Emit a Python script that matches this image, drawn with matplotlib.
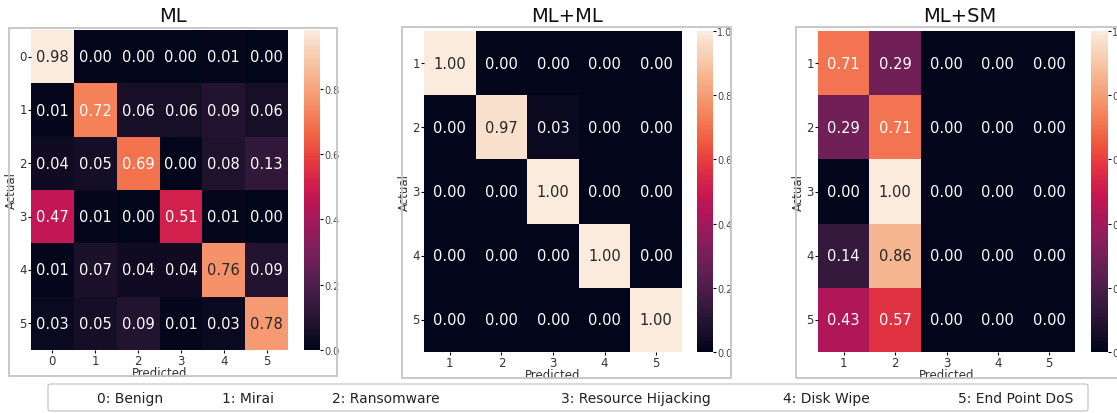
import numpy as np
import matplotlib
matplotlib.use("Agg")
import matplotlib.pyplot as plt
from matplotlib.patches import Rectangle, FancyBboxPatch
import seaborn as sns

# Confusion matrices (row-normalised)
ml_labels = ["0", "1", "2", "3", "4", "5"]
ml_values = [
    [0.98, 0.00, 0.00, 0.00, 0.01, 0.00],
    [0.01, 0.72, 0.06, 0.06, 0.09, 0.06],
    [0.04, 0.05, 0.69, 0.00, 0.08, 0.13],
    [0.47, 0.01, 0.00, 0.51, 0.01, 0.00],
    [0.01, 0.07, 0.04, 0.04, 0.76, 0.09],
    [0.03, 0.05, 0.09, 0.01, 0.03, 0.78],
]

mlml_labels = ["1", "2", "3", "4", "5"]
mlml_values = [
    [1.00, 0.00, 0.00, 0.00, 0.00],
    [0.00, 0.97, 0.03, 0.00, 0.00],
    [0.00, 0.00, 1.00, 0.00, 0.00],
    [0.00, 0.00, 0.00, 1.00, 0.00],
    [0.00, 0.00, 0.00, 0.00, 1.00],
]

mlsm_labels = ["1", "2", "3", "4", "5"]
mlsm_values = [
    [0.71, 0.29, 0.00, 0.00, 0.00],
    [0.29, 0.71, 0.00, 0.00, 0.00],
    [0.00, 1.00, 0.00, 0.00, 0.00],
    [0.14, 0.86, 0.00, 0.00, 0.00],
    [0.43, 0.57, 0.00, 0.00, 0.00],
]

panel_titles = ["ML", "ML+ML", "ML+SM"]
class_names = ["0: Benign", "1: Mirai", "2: Ransomware",
               "3: Resource Hijacking", "4: Disk Wipe", "5: End Point DoS"]

W, H = 1117, 414
fig = plt.figure(figsize=(W / 100, H / 100), dpi=100)
fig.patch.set_facecolor("white")


def fx(px):
    return px / W


def fy(py):
    return 1 - py / H


def box(x0, y0, x1, y1):
    return [fx(x0), fy(y1), fx(x1) - fx(x0), fy(y0) - fy(y1)]


# layout in pixels: heatmap box, colorbar box, frame box, title centre
panels = [
    dict(data=ml_values, labels=ml_labels, hm=(31, 31, 288, 351),
         cb=(304, 31, 320, 351), frame=(9, 29, 337, 377), tx=173),
    dict(data=mlml_values, labels=mlml_labels, hm=(424, 32, 682, 353),
         cb=(697, 32, 713, 353), frame=(402, 28, 731, 379), tx=567),
    dict(data=mlsm_values, labels=mlsm_labels, hm=(818, 32, 1075, 353),
         cb=(1091, 32, 1108, 353), frame=(796, 28, 1135, 379), tx=960),
]

for p, title in zip(panels, panel_titles):
    fig.patches.append(Rectangle((fx(p["frame"][0]), fy(p["frame"][3])),
                                 fx(p["frame"][2]) - fx(p["frame"][0]),
                                 fy(p["frame"][1]) - fy(p["frame"][3]),
                                 transform=fig.transFigure, fill=False,
                                 edgecolor="#c4c4c4", linewidth=1.3))
    ax = fig.add_axes(box(*p["hm"]))
    cax = fig.add_axes(box(*p["cb"]))
    sns.heatmap(np.array(p["data"]), ax=ax, cbar_ax=cax, cmap="rocket",
                annot=True, fmt=".2f", annot_kws={"size": 10.5},
                xticklabels=p["labels"], yticklabels=p["labels"])
    ax.set_xlabel("Predicted", fontsize=8.5, labelpad=-1, color="#333333")
    ax.set_ylabel("Actual", fontsize=8.5, labelpad=1, color="#333333")
    ax.tick_params(axis="both", labelsize=8.5, length=2, pad=1,
                   labelcolor="#333333")
    ax.set_yticklabels(p["labels"], rotation=0)
    cax.tick_params(labelsize=7, length=2, pad=1, labelcolor="#444444")
    fig.text(fx(p["tx"]), fy(16), title, ha="center", va="center", fontsize=14,
             color="#111111")

# class legend strip
fig.patches.append(FancyBboxPatch((fx(48), fy(412)), fx(1088) - fx(48),
                                  fy(385) - fy(412),
                                  boxstyle="round,pad=0,rounding_size=0.004",
                                  transform=fig.transFigure, facecolor="white",
                                  edgecolor="#cccccc", linewidth=1.0))
legend_x = [130, 248, 386, 636, 826, 1016]
for name, x in zip(class_names, legend_x):
    fig.text(fx(x), fy(399), name, ha="center", va="center", fontsize=10,
             color="#222222")

fig.savefig("out.png", dpi=100)
